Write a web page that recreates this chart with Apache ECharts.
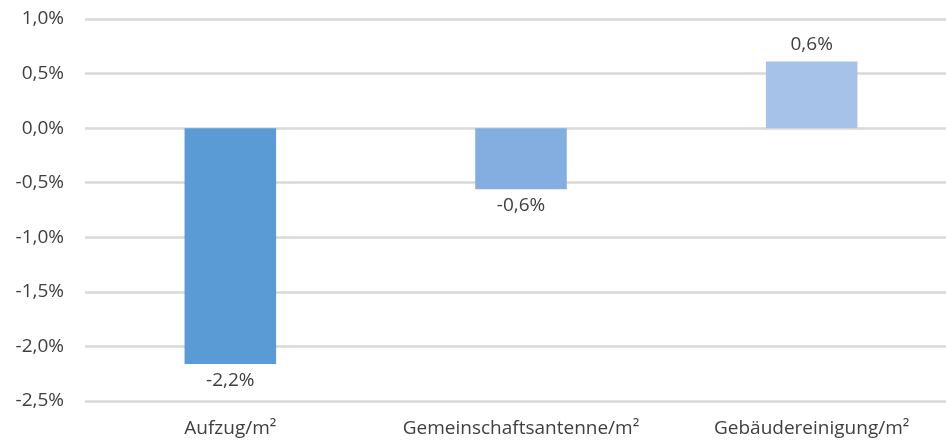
<!DOCTYPE html>
<html>
<head>
<meta charset="utf-8">
<script src="https://cdn.jsdelivr.net/npm/echarts@6/dist/echarts.min.js"></script>
<style>
  html, body { margin: 0; padding: 0; background: #ffffff; overflow: hidden; }
  #wrap { width: 946px; height: 441px; overflow: hidden; }
  /* plot area runs a little past the right edge of the window */
  #chart { width: 957px; height: 441px; }
</style>
</head>
<body>
<div id="wrap"><div id="chart"></div></div>
<script>
// Change in operating cost items per square metre (percent)
const categories = ['Aufzug/m²', 'Gemeinschaftsantenne/m²', 'Gebäudereinigung/m²'];
const changes = [-2.16, -0.56, 0.61];
const barColors = ['#5b9bd5', '#85aee0', '#a7c2e8'];
const yTicks = { min: -2.5, max: 1.0, interval: 0.5 };

const fmtPct = v => v.toFixed(1).replace('.', ',') + '%';

const chart = echarts.init(document.getElementById('chart'), null, { renderer: 'canvas' });
const font = '"Open Sans", "Noto Sans", sans-serif';

chart.setOption({
  animation: false,
  grid: { left: 85, top: 19, right: 0, bottom: 40, containLabel: false },
  xAxis: {
    type: 'category',
    data: categories,
    axisLine: { show: false },
    axisTick: { show: false },
    axisLabel: {
      interval: 0, hideOverlap: false,
      color: '#404040', fontSize: 19, fontFamily: font, margin: 18
    }
  },
  yAxis: {
    type: 'value',
    min: yTicks.min,
    max: yTicks.max,
    interval: yTicks.interval,
    axisLine: { show: false },
    axisTick: { show: false },
    splitLine: { lineStyle: { color: '#d9d9d9', width: 2.5 } },
    axisLabel: {
      color: '#404040', fontSize: 19, fontFamily: font, margin: 21,
      formatter: v => fmtPct(v)
    }
  },
  series: [{
    type: 'bar',
    barWidth: '31.5%',
    data: changes.map((v, i) => ({
      value: v,
      itemStyle: { color: barColors[i] },
      label: { position: v < 0 ? 'bottom' : 'top' }
    })),
    label: {
      show: true,
      distance: 7,
      color: '#404040',
      fontSize: 19,
      fontFamily: font,
      formatter: p => fmtPct(p.value)
    }
  }]
});
</script>
</body>
</html>
